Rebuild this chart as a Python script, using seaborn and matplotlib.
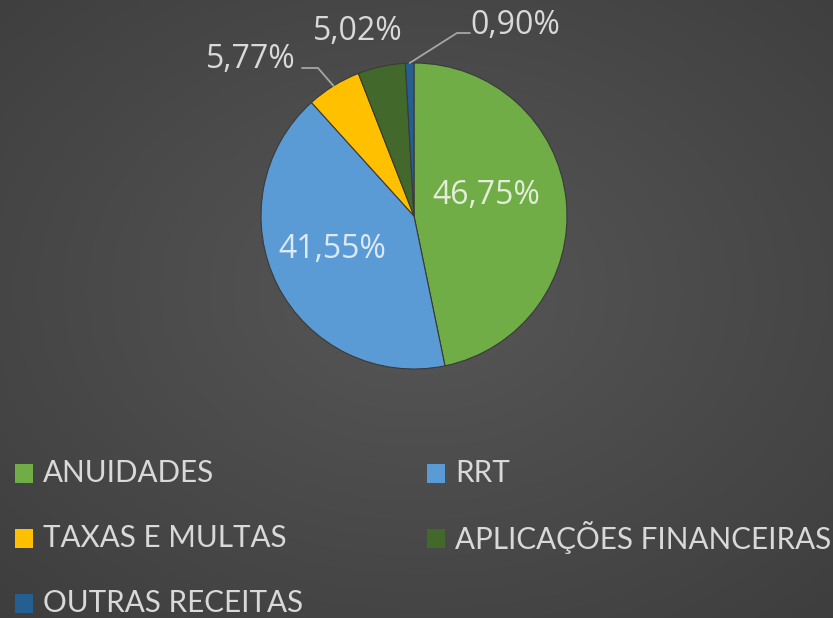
import numpy as np
import matplotlib
matplotlib.use("Agg")
import matplotlib.pyplot as plt
from matplotlib.patches import Rectangle
import seaborn as sns

# Revenue composition (%)
categories = ["ANUIDADES", "RRT", "TAXAS E MULTAS", "APLICAÇÕES FINANCEIRAS", "OUTRAS RECEITAS"]
shares = [46.75, 41.55, 5.77, 5.02, 0.90]
share_labels = ["46,75%", "41,55%", "5,77%", "5,02%", "0,90%"]
colors = ["#70AD47", "#5B9BD5", "#FFC000", "#43682B", "#255E91"]

sns.set_theme(style="white")
plt.rcParams["font.family"] = ["Open Sans", "DejaVu Sans"]

W, H = 833, 618
fig = plt.figure(figsize=(W / 100, H / 100), dpi=100)

# radial gradient background
bg = fig.add_axes([0, 0, 1, 1])
yy, xx = np.mgrid[0:H, 0:W]
d = np.sqrt(((xx - 420) / 620.0) ** 2 + ((yy - 290) / 460.0) ** 2)
shade = np.clip(0.34 - 0.10 * d, 0.2, 0.4)
bg.imshow(np.dstack([shade] * 3), extent=[0, 1, 0, 1], aspect="auto", interpolation="bilinear")
bg.set_xlim(0, 1)
bg.set_ylim(0, 1)
bg.set_axis_off()

# pie axes: centre (414, 216) px, radius 153 px
R = 153
ax = fig.add_axes([(414 - R) / W, 1 - (216 + R) / H, 2 * R / W, 2 * R / H])
wedges, _ = ax.pie(shares, colors=colors, startangle=90, counterclock=False,
                   wedgeprops=dict(edgecolor="#3a3a3a", linewidth=0.8))
ax.set_xlim(-1, 1)
ax.set_ylim(-1, 1)
ax.set_aspect("equal")
ax.set_axis_off()

txt = "#d9d9d9"
fs = 23

def px(x, y):
    return (x - 414) / R, (216 - y) / R

def edge_point(i):
    start = 90 - 3.6 * sum(shares[:i])
    mid = np.deg2rad(start - 3.6 * shares[i] / 2)
    return np.cos(mid), np.sin(mid)

# labels inside the two large slices
ax.text(*px(486, 195), share_labels[0], color="#e2eed8", fontsize=fs, ha="center", va="center")
ax.text(*px(332, 250), share_labels[1], color="#dde9f5", fontsize=fs, ha="center", va="center")

# small slices with leader lines
ex, ey = edge_point(2)
ax.plot([ex, px(318, 68)[0], px(302, 68)[0]], [ey, px(318, 68)[1], px(302, 68)[1]],
        color="#a6a6a6", lw=1.3, clip_on=False)
ax.text(*px(296, 60), share_labels[2], color=txt, fontsize=fs, ha="right", va="center")

ax.text(*px(358, 32), share_labels[3], color=txt, fontsize=fs, ha="center", va="center")

ex, ey = edge_point(4)
ax.plot([ex, px(457, 33)[0], px(470, 33)[0]], [ey, px(457, 33)[1], px(470, 33)[1]],
        color="#a6a6a6", lw=1.3, clip_on=False)
ax.text(*px(470, 26), share_labels[4], color=txt, fontsize=fs, ha="left", va="center")

# legend: two columns, filled row by row
col_x = [15, 427]
row_y = [473, 538, 603]
sw, sh = 18, 19
for i, (name, c) in enumerate(zip(categories, colors)):
    x0 = col_x[i % 2]
    y0 = row_y[i // 2]
    bg.add_patch(Rectangle((x0 / W, 1 - (y0 + sh / 2) / H), sw / W, sh / H,
                           facecolor=c, edgecolor="none"))
    bg.text((x0 + 28) / W, 1 - y0 / H, name, color=txt, fontsize=21.3,
            ha="left", va="center", family=["Lato", "DejaVu Sans"])

fig.savefig("out.png", dpi=100)
